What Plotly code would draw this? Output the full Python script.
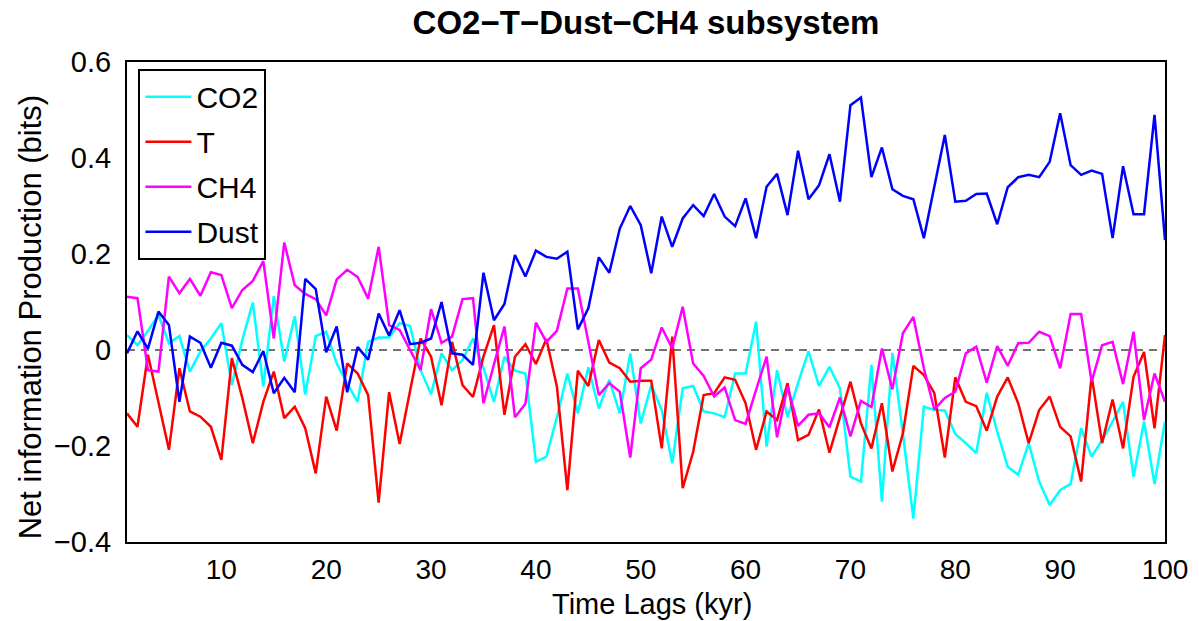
import plotly.graph_objects as go

lags = list(range(1, 101))

co2 = [0.031, 0.010, 0.040, 0.073, 0.014, 0.029, -0.045, -0.003, 0.024, 0.056,
       -0.073, 0.021, 0.099, -0.076, 0.112, -0.024, 0.070, -0.093, 0.029, 0.038,
       -0.028, -0.070, -0.108, 0.017, 0.026, 0.026, 0.056, 0.050, -0.042, -0.092,
       -0.007, -0.042, -0.021, 0.024, -0.038, -0.108, -0.014, -0.043, -0.049, -0.233,
       -0.222, -0.140, -0.049, -0.132, -0.036, -0.122, -0.062, -0.132, -0.007, -0.153,
       -0.073, -0.125, -0.236, -0.080, -0.075, -0.128, -0.132, -0.140, -0.049, -0.049,
       0.059, -0.201, -0.042, -0.140, -0.069, -0.003, -0.075, -0.035, -0.080, -0.264,
       -0.274, -0.031, -0.316, -0.006, -0.174, -0.351, -0.118, -0.125, -0.126, -0.175,
       -0.194, -0.215, -0.089, -0.170, -0.243, -0.260, -0.194, -0.274, -0.323, -0.292,
       -0.279, -0.163, -0.222, -0.188, -0.149, -0.108, -0.264, -0.149, -0.279, -0.149]

temp = [-0.132, -0.160, -0.010, -0.110, -0.208, -0.038, -0.128, -0.139, -0.160, -0.229,
        -0.017, -0.100, -0.194, -0.108, -0.045, -0.142, -0.118, -0.163, -0.257, -0.097,
        -0.168, -0.028, -0.049, -0.094, -0.318, -0.088, -0.196, -0.085, 0.024, -0.014,
        -0.115, 0.017, -0.073, -0.098, -0.014, 0.052, -0.135, -0.014, 0.012, -0.029,
        0.023, -0.076, -0.292, -0.043, -0.075, 0.021, -0.026, -0.038, -0.066, -0.064,
        -0.064, -0.205, 0.028, -0.288, -0.212, -0.094, -0.090, -0.057, -0.062, -0.111,
        -0.208, -0.128, -0.146, -0.069, -0.188, -0.177, -0.124, -0.214, -0.139, -0.066,
        -0.153, -0.205, -0.111, -0.253, -0.174, -0.033, -0.052, -0.090, -0.224, -0.057,
        -0.108, -0.117, -0.168, -0.097, -0.057, -0.111, -0.194, -0.125, -0.097, -0.160,
        -0.180, -0.274, -0.054, -0.194, -0.103, -0.205, -0.056, -0.004, -0.163, 0.031]

ch4 = [0.111, 0.108, -0.042, -0.045, 0.153, 0.118, 0.148, 0.113, 0.162, 0.156,
       0.087, 0.125, 0.144, 0.185, 0.024, 0.224, 0.135, 0.117, 0.106, 0.072,
       0.147, 0.167, 0.152, 0.107, 0.215, 0.052, 0.042, 0.000, -0.042, 0.085,
       0.015, 0.028, 0.106, 0.108, -0.111, -0.030, 0.049, -0.140, -0.112, 0.057,
       0.017, 0.040, 0.128, 0.128, 0.017, -0.094, -0.069, -0.087, -0.224, -0.038,
       -0.020, 0.047, 0.003, 0.090, -0.028, -0.054, -0.097, -0.078, -0.146, -0.154,
       -0.083, -0.014, -0.182, -0.076, -0.158, -0.135, -0.132, -0.161, -0.099, -0.180,
       -0.106, -0.119, 0.003, -0.082, 0.035, 0.069, -0.038, -0.124, -0.100, -0.087,
       -0.007, 0.007, -0.068, 0.008, -0.033, 0.014, 0.015, 0.038, 0.029, -0.038,
       0.075, 0.075, -0.066, 0.010, 0.017, -0.071, 0.038, -0.146, -0.049, -0.108]

dust = [-0.007, 0.039, 0.003, 0.080, 0.052, -0.108, 0.028, 0.015, -0.037, 0.015,
        0.009, -0.031, -0.046, -0.002, -0.090, -0.058, -0.088, 0.148, 0.127, -0.005,
        0.049, -0.088, 0.006, -0.020, 0.076, 0.030, 0.083, 0.012, 0.015, 0.024,
        0.100, -0.007, -0.010, -0.031, 0.161, 0.062, 0.096, 0.198, 0.153, 0.207,
        0.194, 0.190, 0.205, 0.043, 0.087, 0.193, 0.161, 0.253, 0.300, 0.260,
        0.160, 0.278, 0.215, 0.274, 0.302, 0.279, 0.325, 0.278, 0.258, 0.316,
        0.233, 0.340, 0.367, 0.281, 0.415, 0.314, 0.343, 0.408, 0.309, 0.510,
        0.526, 0.360, 0.422, 0.335, 0.321, 0.314, 0.233, 0.340, 0.448, 0.309,
        0.311, 0.325, 0.326, 0.262, 0.339, 0.360, 0.365, 0.360, 0.392, 0.493,
        0.385, 0.365, 0.374, 0.367, 0.233, 0.383, 0.283, 0.283, 0.490, 0.229]

series_names = ["CO2", "T", "CH4", "Dust"]
series_values = [co2, temp, ch4, dust]
series_colors = ["#00FFFF", "#FF0000", "#FF00FF", "#0000FF"]

y_tickvals = [-0.4, -0.2, 0, 0.2, 0.4, 0.6]
y_ticktext = ["\u22120.4", "\u22120.2", "0", "0.2", "0.4", "0.6"]
x_tickvals = [10, 20, 30, 40, 50, 60, 70, 80, 90, 100]

FONT = "Arial, 'Liberation Sans', Helvetica, sans-serif"

fig = go.Figure()

fig.add_trace(go.Scatter(
    x=[lags[0], lags[-1]], y=[0, 0], mode="lines",
    line=dict(color="#444444", width=1.5, dash="8px,6px"),
    showlegend=False, hoverinfo="skip"))

for i, (name, vals, col) in enumerate(zip(series_names, series_values, series_colors)):
    fig.add_trace(go.Scatter(
        x=lags, y=vals, mode="lines", name=name,
        line=dict(color=col, width=2.5),
        legendgroup="g%d" % i))

fig.update_layout(
    width=1199, height=621,
    margin=dict(l=127, r=34, t=62, b=79),
    paper_bgcolor="white", plot_bgcolor="white",
    font=dict(family=FONT, color="black", size=30),
    showlegend=True,
    legend=dict(
        x=0.011, y=0.986, xanchor="left", yanchor="top",
        bgcolor="white", bordercolor="black", borderwidth=2,
        font=dict(size=30, family=FONT, color="black"),
        tracegroupgap=3, itemwidth=46),
    title=dict(
        text="<b>CO2\u2212T\u2212Dust\u2212CH4 subsystem</b>",
        x=0.5, xref="paper", xanchor="center",
        y=1 - 22 / 621, yref="container", yanchor="middle",
        font=dict(size=33, family=FONT, color="black")),
    xaxis=dict(
        range=[1, 100], tickvals=x_tickvals,
        showgrid=False, zeroline=False,
        showline=True, linecolor="black", linewidth=2, mirror=True,
        ticks="", tickfont=dict(size=28, family=FONT),
        ticklabelstandoff=1),
    yaxis=dict(
        range=[-0.4, 0.6], tickvals=y_tickvals, ticktext=y_ticktext,
        showgrid=False, zeroline=False,
        showline=True, linecolor="black", linewidth=2, mirror=True,
        ticks="", tickfont=dict(size=29, family=FONT),
        ticklabelstandoff=8),
    annotations=[
        dict(text="Time Lags (kyr)", xref="paper", yref="paper",
             x=0.506, y=-0.13, xanchor="center", yanchor="middle",
             showarrow=False, font=dict(size=29, family=FONT)),
        dict(text="Net information Production (bits)", xref="paper", yref="paper",
             x=-0.0935, y=0.47, xanchor="center", yanchor="middle",
             textangle=-90, showarrow=False, font=dict(size=31, family=FONT)),
    ],
)

fig.write_html("out.html")
